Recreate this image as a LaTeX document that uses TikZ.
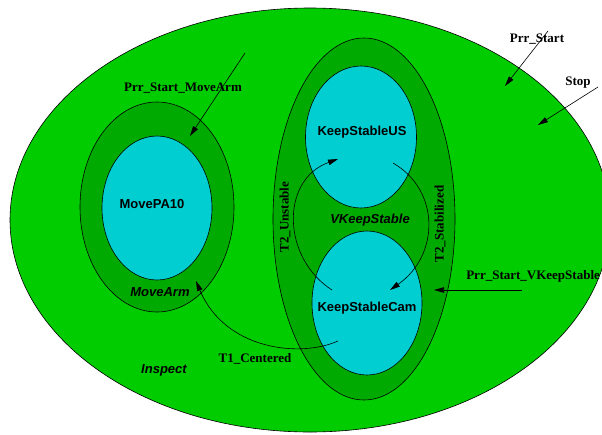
\documentclass[tikz,border=0pt]{standalone}
\usepackage{fontspec}
\setmainfont{Liberation Serif}
\setsansfont{Liberation Sans}
\usepackage{tikz}
\usetikzlibrary{arrows.meta}
\usetikzlibrary{shapes.geometric}

\definecolor{figgreen}{RGB}{0,204,0}
\definecolor{figdark}{RGB}{0,170,0}
\definecolor{figcyan}{RGB}{0,206,209}

\begin{document}
\begin{tikzpicture}[x=1pt,y=-1pt,line width=0.6pt,
	font=\fontsize{13}{15}\selectfont,
	superstate/.style={ellipse,draw,fill=figdark,inner sep=0pt},
	state/.style={ellipse,draw,fill=figcyan,inner sep=0pt},
	statename/.style={font=\fontsize{13}{15}\selectfont\sffamily\bfseries},
	supername/.style={font=\fontsize{13}{15}\selectfont\sffamily\bfseries\itshape},
	event/.style={font=\fontsize{13}{15}\selectfont\bfseries},
	>={Triangle[length=10pt,width=5.5pt]}]
\useasboundingbox (0,0) rectangle (602,434);
\clip (0,0) rectangle (602,434);

% outer state
\node[ellipse,draw,fill=figgreen,inner sep=0pt,minimum width=600pt,minimum height=424pt] (inspect) at (310,220) {};

% super states
\node[superstate,minimum width=154pt,minimum height=210pt] (movearm) at (157,207) {};
\node[superstate,minimum width=182pt,minimum height=362pt] (vkeep) at (364,219) {};

% states
\node[state,minimum width=110pt,minimum height=144pt] (movepa) at (157,208) {};
\node[state,minimum width=111pt,minimum height=142pt] (keepus) at (361,137) {};
\node[state,minimum width=110pt,minimum height=144pt] (keepcam) at (367,303) {};

\node[statename] (movepa-t) at (152,204) {MovePA10};
\node[statename] (keepus-t) at (362,132) {KeepStableUS};
\node[statename] (keepcam-t) at (367,308) {KeepStableCam};

\node[supername] (movearm-t) at (160,292) {MoveArm};
\node[supername] (vkeep-t) at (370,220) {VKeepStable};
\node[supername] (inspect-t) at (164,370) {Inspect};

% entry events
\coordinate (arm-a) at (245,53);
\coordinate (arm-b) at (190,136);
\coordinate (prr-a) at (548,31);
\coordinate (prr-b) at (505,86);
\coordinate (stop-a) at (598,87);
\coordinate (stop-b) at (538,125);
\coordinate (vks-a) at (522,290);
\coordinate (vks-b) at (434,290);

\draw[->] (arm-a) -- (arm-b);
\draw[->] (prr-a) -- (prr-b);
\draw[->] (stop-a) -- (stop-b);
\draw[->] (vks-a) -- (vks-b);

\node[event] (arm-t) at (183,88) {Prr\_Start\_MoveArm};
\node[event] (prr-t) at (537,39) {Prr\_Start};
\node[event] (stop-t) at (578,83) {Stop};
\node[event,anchor=west,inner sep=0pt] (vks-t) at (466,276) {Prr\_Start\_VKeepStable};

% transitions
\coordinate (t1-a) at (338,341);
\coordinate (t1-b) at (196,281);
\coordinate (un-a) at (332,290);
\coordinate (un-b) at (338,159);
\coordinate (st-a) at (393,163);
\coordinate (st-b) at (390,290);

\draw[->] (t1-a) .. controls (300,358) and (225,350) .. (t1-b);
\draw[->] (un-a) .. controls (282,258) and (280,180) .. (un-b);
\draw[->] (st-a) .. controls (440,190) and (440,255) .. (st-b);

\node[event] (t1-t) at (255,359) {T1\_Centered};
\node[event,rotate=90] (un-t) at (285,217) {T2\_Unstable};
\node[event,rotate=90] (st-t) at (440,224) {T2\_Stabilized};

\end{tikzpicture}
\end{document}
